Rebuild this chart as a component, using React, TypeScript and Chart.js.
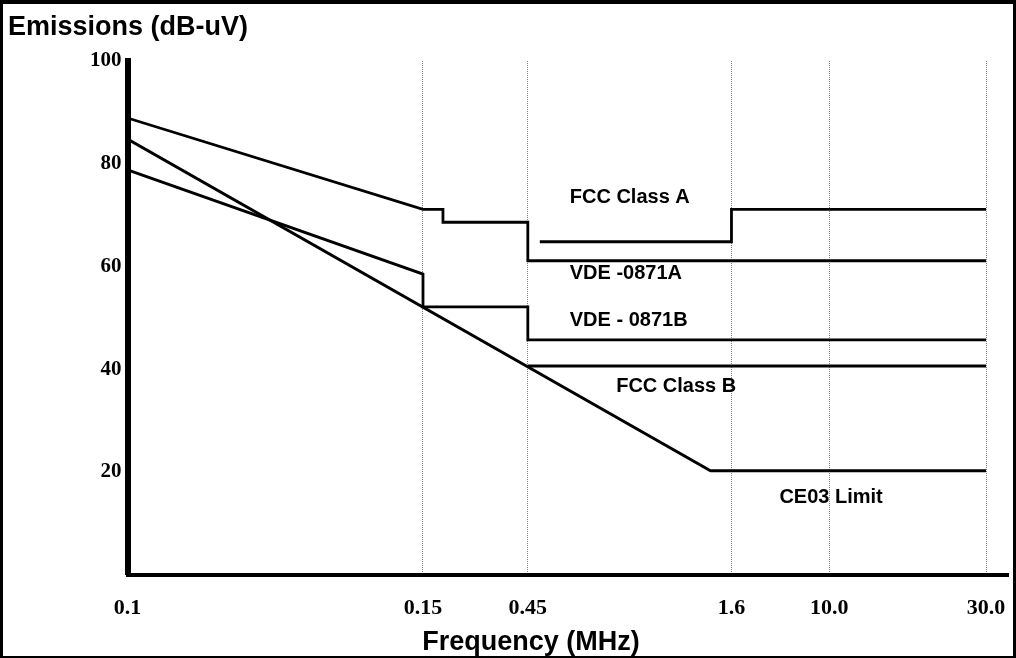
import React, { useEffect, useRef } from 'react';
import { Chart, registerables } from 'chart.js';

Chart.register(...registerables);

// Frequency axis: tick labels and their position along the (non-uniform) axis
const freqTickLabels = ['0.1', '0.15', '0.45', '1.6', '10.0', '30.0'];
const freqTickPos = [0, 2.96, 4.01, 6.05, 7.03, 8.6];
const freqAxisEnd = 8.82;

// Emission level ticks (dB-uV)
const levelTicks = [20, 40, 60, 80, 100];

// VDE -0871A
const vdeAPos = [0, 2.96, 3.16, 3.16, 4.01, 4.01, 8.6];
const vdeAValues = [88.9, 71.1, 71.1, 68.6, 68.6, 61.1, 61.1];

// FCC Class A
const fccAPos = [4.13, 6.05, 6.05, 8.6];
const fccAValues = [64.8, 64.8, 71.1, 71.1];

// VDE - 0871B
const vdeBPos = [0, 2.96, 2.96, 4.01, 4.01, 8.6];
const vdeBValues = [78.8, 58.5, 52.1, 52.1, 45.7, 45.7];

// FCC Class B
const fccBPos = [4.01, 8.6];
const fccBValues = [40.6, 40.6];

// CE03 Limit
const ce03Pos = [0, 5.84, 8.6];
const ce03Values = [84.8, 20.2, 20.2];

// Series name labels (anchored in axis units: position, level at baseline)
const seriesNames = ['FCC Class A', 'VDE -0871A', 'VDE - 0871B', 'FCC Class B', 'CE03 Limit'];
const seriesNamePos = [4.43, 4.43, 4.43, 4.895, 6.53];
const seriesNameLevel = [72.3, 57.5, 48.4, 35.6, 14.0];

const titleText = 'Emissions (dB-uV)';
const xTitleText = 'Frequency (MHz)';

const SANS = '"Liberation Sans", Arial, sans-serif';
const SERIF = '"Liberation Serif", "Times New Roman", serif';

const toPoints = (xs: number[], ys: number[]) => xs.map((x, i) => ({ x, y: ys[i] }));

const textPlugin = {
  id: 'emissionTexts',
  afterDraw(chart: any) {
    const { ctx, scales } = chart;
    const xs = scales.x;
    const ys = scales.y;
    ctx.save();
    ctx.fillStyle = '#000';
    ctx.textBaseline = 'alphabetic';
    ctx.textAlign = 'left';
    ctx.font = `bold 20px ${SANS}`;
    seriesNames.forEach((name, i) => {
      ctx.fillText(name, xs.getPixelForValue(seriesNamePos[i]), ys.getPixelForValue(seriesNameLevel[i]));
    });
    ctx.font = `bold 27px ${SANS}`;
    ctx.fillText(titleText, 8, 35);
    ctx.textAlign = 'center';
    ctx.fillText(xTitleText, 531, 650);
    ctx.restore();
  },
};

export default function App() {
  const canvasRef = useRef<HTMLCanvasElement | null>(null);

  useEffect(() => {
    if (!canvasRef.current) return;
    const line = (xs: number[], ys: number[]) => ({
      data: toPoints(xs, ys),
      borderColor: '#000',
      borderWidth: 2.8,
      pointRadius: 0,
      tension: 0,
      fill: false,
      borderJoinStyle: 'miter' as const,
      borderCapStyle: 'butt' as const,
    });
    const chart = new Chart(canvasRef.current, {
      type: 'line',
      data: {
        datasets: [
          line(vdeAPos, vdeAValues),
          line(fccAPos, fccAValues),
          line(vdeBPos, vdeBValues),
          line(fccBPos, fccBValues),
          line(ce03Pos, ce03Values),
        ],
      },
      options: {
        animation: false,
        responsive: false,
        maintainAspectRatio: false,
        devicePixelRatio: 1,
        layout: { padding: { left: 0, right: 8, top: 61, bottom: 0 } },
        plugins: {
          legend: { display: false },
          tooltip: { enabled: false },
          title: { display: false },
        },
        scales: {
          x: {
            type: 'linear',
            min: 0,
            max: freqAxisEnd,
            afterBuildTicks: (s: any) => {
              s.ticks = freqTickPos.map((v) => ({ value: v }));
            },
            afterFit: (s: any) => {
              s.height = 83.5;
              s.paddingLeft = 0;
              s.paddingRight = 0;
            },
            ticks: {
              autoSkip: false,
              maxRotation: 0,
              padding: 21,
              color: '#000',
              font: { family: SERIF, weight: 'bold', size: 22 },
              callback: (_v: any, i: number) => freqTickLabels[i],
            },
            grid: {
              drawTicks: false,
              color: (c: any) => (c.index === 0 ? 'rgba(0,0,0,0)' : '#808080'),
              lineWidth: 1,
            },
            border: { display: true, color: '#000', width: 4, dash: [1, 1] },
          },
          y: {
            type: 'linear',
            min: 0,
            max: 100,
            afterBuildTicks: (s: any) => {
              s.ticks = levelTicks.map((v) => ({ value: v }));
            },
            afterFit: (s: any) => {
              s.width = 127.5;
              s.paddingTop = 0;
              s.paddingBottom = 0;
            },
            ticks: {
              padding: 6,
              color: '#000',
              font: { family: SERIF, weight: 'bold', size: 21 },
            },
            grid: { display: false, drawTicks: false },
            border: { display: true, color: '#000', width: 6 },
          },
        },
      },
      plugins: [textPlugin],
    });
    return () => chart.destroy();
  }, []);

  return (
    <div style={{ position: 'fixed', left: 0, top: 0, width: 1016, height: 658, background: '#fff' }}>
      <canvas ref={canvasRef} width={1016} height={658} style={{ position: 'absolute', left: 0, top: 0 }} />
      <div
        style={{
          position: 'absolute',
          left: 0,
          top: 0,
          width: 1016,
          height: 658,
          boxSizing: 'border-box',
          borderTop: '4px solid #000',
          borderLeft: '3px solid #000',
          borderRight: '3px solid #000',
          borderBottom: '2px solid #000',
          pointerEvents: 'none',
        }}
      />
    </div>
  );
}
